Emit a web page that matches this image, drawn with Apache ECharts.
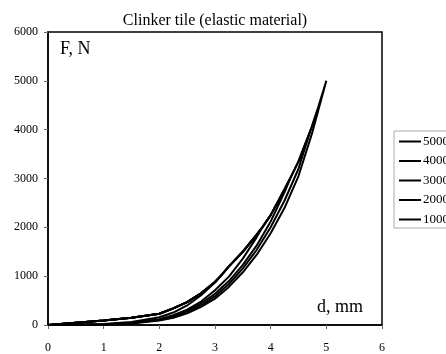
<!DOCTYPE html>
<html>
<head>
<meta charset="utf-8">
<script src="https://cdn.jsdelivr.net/npm/echarts@6/dist/echarts.min.js"></script>
<style>html,body{margin:0;padding:0;background:#fff}#c{width:446px;height:354px}</style>
</head>
<body>
<div id="c"></div>
<script>
// Shared upper (top) branch of the loops: displacement d (mm) and force F (N)
var upperD = [0, 0.5, 1, 1.5, 2, 2.25, 2.5, 2.75, 3, 3.1, 3.25, 3.5, 3.75, 3.85, 4, 4.25, 4.35, 4.5, 4.72, 4.85, 5];
var upperF = [0, 45, 90, 150, 230, 340, 470, 650, 880, 1000, 1200, 1500, 1850, 2000, 2250, 2780, 3000, 3350, 4000, 4450, 5000];

// Lower branches (from peak back to origin) for each max load
var lowD5000 = [5, 4.75, 4.5, 4.25, 4, 3.75, 3.5, 3.25, 3, 2.75, 2.5, 2.25, 2, 1.5, 1, 0.5, 0];
var lowF5000 = [5000, 3950, 3050, 2400, 1880, 1440, 1080, 780, 540, 370, 240, 150, 90, 30, 8, 2, 0];
var lowD4000 = [4.72, 4.5, 4.25, 4, 3.75, 3.5, 3.25, 3, 2.75, 2.5, 2.25, 2, 1.5, 1, 0.5, 0];
var lowF4000 = [4000, 3200, 2550, 2000, 1540, 1160, 840, 590, 400, 260, 160, 100, 35, 10, 2, 0];
var lowD3000 = [4.35, 4.25, 4, 3.75, 3.5, 3.25, 3, 2.75, 2.5, 2.25, 2, 1.5, 1, 0.5, 0];
var lowF3000 = [3000, 2720, 2120, 1630, 1230, 900, 640, 440, 285, 175, 110, 40, 12, 3, 0];
var lowD2000 = [3.85, 3.75, 3.5, 3.25, 3, 2.75, 2.5, 2.25, 2, 1.5, 1, 0.5, 0];
var lowF2000 = [2000, 1800, 1360, 990, 710, 480, 315, 200, 120, 45, 14, 3, 0];
var lowD1000 = [3.1, 3, 2.75, 2.5, 2.25, 2, 1.5, 1, 0.5, 0];
var lowF1000 = [1000, 870, 610, 400, 255, 160, 60, 18, 4, 0];

var seriesNames = ['5000', '4000', '3000', '2000', '1000'];
var peakF = [5000, 4000, 3000, 2000, 1000];
var lowDs = [lowD5000, lowD4000, lowD3000, lowD2000, lowD1000];
var lowFs = [lowF5000, lowF4000, lowF3000, lowF2000, lowF1000];

var xTicks = [0, 1, 2, 3, 4, 5, 6];
var yTicks = [0, 1000, 2000, 3000, 4000, 5000, 6000];

function buildLoop(i) {
  var pts = [];
  for (var k = 0; k < upperD.length; k++) {
    if (upperF[k] > peakF[i]) break;
    pts.push([upperD[k], upperF[k]]);
  }
  for (var j = 1; j < lowDs[i].length; j++) {
    pts.push([lowDs[i][j], lowFs[i][j]]);
  }
  return pts;
}

var serif = '"Liberation Serif", "DejaVu Serif", serif';
var series = seriesNames.map(function (n, i) {
  return {
    name: n, type: 'line', data: buildLoop(i), symbol: 'none', smooth: false,
    lineStyle: { color: '#000', width: 2 }, itemStyle: { color: '#000' }, animation: false
  };
});

var chart = echarts.init(document.getElementById('c'));
chart.setOption({
  animation: false,
  backgroundColor: '#fff',
  grid: { left: 48, right: 64, top: 32, bottom: 28, show: true, borderColor: '#000', borderWidth: 1.5, backgroundColor: 'transparent' },
  xAxis: {
    type: 'value', min: xTicks[0], max: xTicks[xTicks.length - 1], interval: 1,
    axisLine: { lineStyle: { color: '#000', width: 1.5 } },
    axisTick: { show: true, length: 4, lineStyle: { color: '#666' } },
    axisLabel: { margin: 17, color: '#000', fontFamily: serif, fontSize: 12, formatter: function (v) { return String(v); } },
    splitLine: { show: false }
  },
  yAxis: {
    type: 'value', min: yTicks[0], max: yTicks[yTicks.length - 1], interval: 1000,
    axisLine: { show: true, lineStyle: { color: '#000', width: 1.5 } },
    axisTick: { show: true, length: 4, lineStyle: { color: '#666' } },
    axisLabel: { margin: 10, color: '#000', fontFamily: serif, fontSize: 12, formatter: function (v) { return String(v); } },
    splitLine: { show: false }
  },
  legend: {
    orient: 'vertical', left: 394, top: 131,
    data: seriesNames,
    itemWidth: 22, itemHeight: 12, itemGap: 6.5,
    padding: [4, 5, 2, 4],
    borderColor: '#aaa', borderWidth: 1,
    itemStyle: { opacity: 0, borderWidth: 0 },
    lineStyle: { color: '#000', width: 2 },
    textStyle: { fontFamily: serif, fontSize: 13, color: '#000', padding: [0, 0, 0, -3] },
    selectedMode: false
  },
  graphic: [
    { type: 'text', position: [215, 21], style: { text: 'Clinker tile (elastic material)', font: '16px ' + serif, fill: '#000', textAlign: 'center', textVerticalAlign: 'middle' } },
    { type: 'text', position: [60, 49], style: { text: 'F, N', font: '18px ' + serif, fill: '#000', textAlign: 'left', textVerticalAlign: 'middle' } },
    { type: 'text', position: [317, 307], style: { text: 'd, mm', font: '18px ' + serif, fill: '#000', textAlign: 'left', textVerticalAlign: 'middle' } }
  ],
  series: series
});
</script>
</body>
</html>
